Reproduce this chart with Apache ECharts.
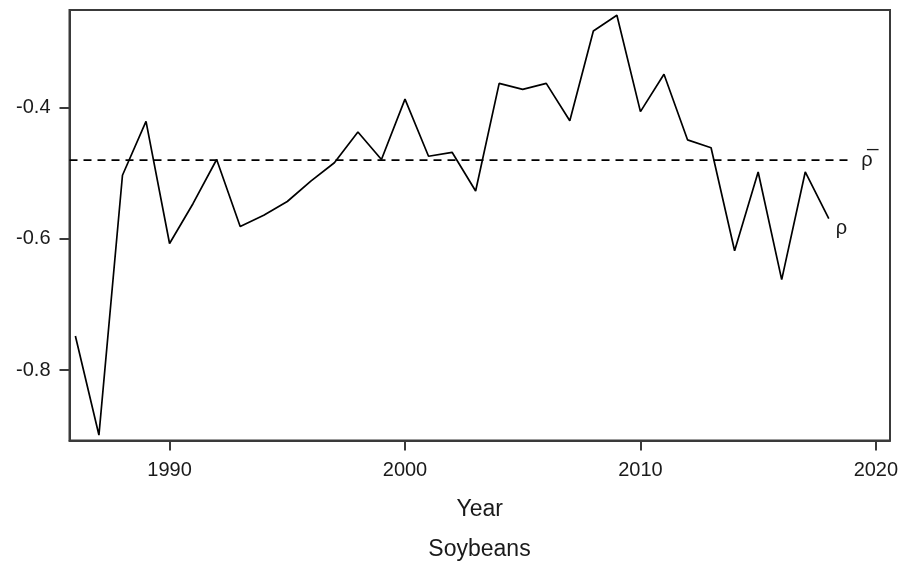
<!DOCTYPE html>
<html>
<head>
<meta charset="utf-8">
<script src="https://cdn.jsdelivr.net/npm/echarts@6/dist/echarts.min.js"></script>
<style>
  html, body { margin: 0; padding: 0; background: #fff; }
  #chart { width: 902px; height: 568px; }
</style>
</head>
<body>
<div id="chart"></div>
<script>
// Yearly correlation coefficient for soybeans, 1986-2018
const years = [1986, 1987, 1988, 1989, 1990, 1991, 1992, 1993, 1994, 1995,
               1996, 1997, 1998, 1999, 2000, 2001, 2002, 2003, 2004, 2005,
               2006, 2007, 2008, 2009, 2010, 2011, 2012, 2013, 2014, 2015,
               2016, 2017, 2018];
const rho = [-0.748, -0.899, -0.503, -0.421, -0.607, -0.546, -0.479, -0.581, -0.564, -0.543,
             -0.512, -0.484, -0.437, -0.479, -0.387, -0.474, -0.468, -0.527, -0.363, -0.372,
             -0.363, -0.420, -0.283, -0.259, -0.406, -0.349, -0.449, -0.461, -0.618, -0.498,
             -0.662, -0.498, -0.569];

// Mean correlation, drawn as a dashed reference line over this span of years
const rhoMean = -0.48;
const meanSpan = [1985.75, 2019];

// Axis ranges and tick labels
const xRange = [1985.75, 2020.6];
const yRange = [-0.9073, -0.2511];
const xTicks = [1990, 2000, 2010, 2020];
const yTicks = [-0.8, -0.6, -0.4];

const ink = '#1a1a1a';
const frame = '#3a3a3a';
const font = 'Liberation Sans, Arial, sans-serif';

const chart = echarts.init(document.getElementById('chart'), null, { renderer: 'canvas' });

chart.setOption({
  animation: false,
  backgroundColor: '#ffffff',
  title: {
    text: 'Soybeans',
    left: 479.5,
    top: 538,
    textAlign: 'center',
    padding: 0,
    textStyle: { fontFamily: font, fontSize: 23, fontWeight: 'normal', color: ink }
  },
  grid: {
    left: 69.5, right: 12, top: 10, bottom: 127.5,
    show: true, borderColor: frame, borderWidth: 2, backgroundColor: 'transparent'
  },
  xAxis: {
    type: 'value',
    min: xRange[0], max: xRange[1],
    name: 'Year',
    nameLocation: 'middle',
    nameGap: 58,
    nameTextStyle: { fontFamily: font, fontSize: 23, color: ink },
    splitLine: { show: false },
    axisLine: { show: true, onZero: false, lineStyle: { color: frame, width: 2 } },
    axisTick: { show: true, customValues: xTicks, length: 10, lineStyle: { color: frame, width: 2 } },
    axisLabel: {
      customValues: xTicks, margin: 20,
      fontFamily: font, fontSize: 20, color: ink,
      formatter: v => String(v)
    }
  },
  yAxis: {
    type: 'value',
    min: yRange[0], max: yRange[1],
    splitLine: { show: false },
    axisLine: { show: true, onZero: false, lineStyle: { color: frame, width: 2 } },
    axisTick: { show: true, customValues: yTicks, length: 10, lineStyle: { color: frame, width: 2 } },
    axisLabel: {
      customValues: yTicks, margin: 19,
      fontFamily: font, fontSize: 20, color: ink,
      formatter: v => v.toFixed(1)
    }
  },
  series: [
    {
      name: 'ρ',
      type: 'line',
      data: years.map((y, i) => [y, rho[i]]),
      showSymbol: false,
      lineStyle: { color: '#000', width: 1.7 },
      endLabel: {
        show: true,
        formatter: 'ρ',
        distance: 7,
        offset: [0, 10],
        fontFamily: font, fontSize: 20, color: ink
      }
    },
    {
      name: 'mean',
      type: 'line',
      data: meanSpan.map(x => [x, rhoMean]),
      showSymbol: false,
      lineStyle: { color: '#000', width: 1.7, type: [8, 6] },
      endLabel: {
        show: true,
        formatter: 'ρ\u0305',
        distance: 9,
        offset: [0, 0],
        fontFamily: font, fontSize: 20, color: ink
      }
    }
  ]
});
</script>
</body>
</html>
